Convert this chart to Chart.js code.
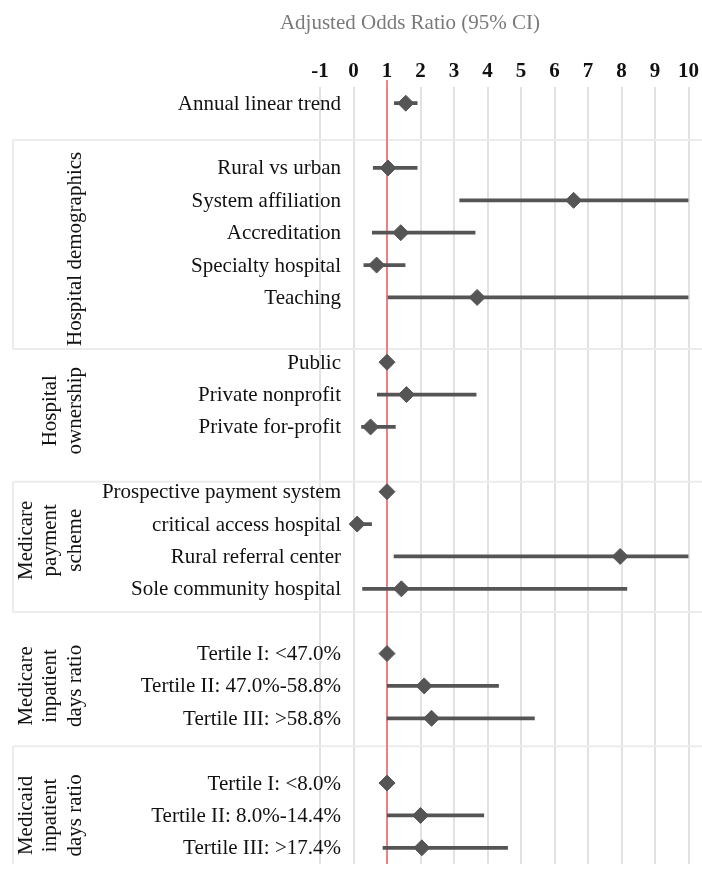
<!DOCTYPE html>
<html>
<head>
<meta charset="utf-8">
<script src="https://cdn.jsdelivr.net/npm/chart.js@4"></script>
<style>
  html, body { margin: 0; padding: 0; background: #fff; }
  #wrap { width: 702px; height: 873px; position: relative; }
</style>
</head>
<body>
<div id="wrap"><canvas id="forest"></canvas></div>
<script>
'use strict';

// Row labels (blank strings are spacer rows between groups)
const rowLabels = [
  'Annual linear trend',
  '',
  'Rural vs urban',
  'System affiliation',
  'Accreditation',
  'Specialty hospital',
  'Teaching',
  '',
  'Public',
  'Private nonprofit',
  'Private for-profit',
  '',
  'Prospective payment system',
  'critical access hospital',
  'Rural referral center',
  'Sole community hospital',
  '',
  'Tertile I: <47.0%',
  'Tertile II: 47.0%-58.8%',
  'Tertile III: >58.8%',
  '',
  'Tertile I: <8.0%',
  'Tertile II: 8.0%-14.4%',
  'Tertile III: >17.4%',
];

const oddsRatio = [1.56, null, 1.03, 6.57, 1.41, 0.69, 3.69, null, 1.0, 1.58, 0.51, null,
  1.0, 0.11, 7.96, 1.43, null, 1.0, 2.11, 2.33, null, 1.0, 2.0, 2.04];
const ciLower = [1.22, null, 0.59, 3.17, 0.56, 0.31, 1.03, null, null, 0.71, 0.24, null,
  null, 0.02, 1.21, 0.27, null, null, 1.01, 1.0, null, null, 1.01, 0.88];
const ciUpper = [1.9, null, 1.9, 10, 3.63, 1.54, 10, null, null, 3.66, 1.25, null,
  null, 0.54, 10, 8.16, null, null, 4.33, 5.4, null, null, 3.89, 4.6];

const xTicks = [-1, 0, 1, 2, 3, 4, 5, 6, 7, 8, 9, 10];
const refValue = 1;

// Groups (row index units on the category axis)
const groupLines = [
  ['Hospital demographics'],
  ['Hospital', 'ownership'],
  ['Medicare', 'payment', 'scheme'],
  ['Medicare', 'inpatient', 'days ratio'],
  ['Medicaid', 'inpatient', 'days ratio'],
];
const groupStart = [1.14, 7.59, 11.69, 15.72, 19.86];
const groupEnd = [7.59, 11.69, 15.72, 19.86, 23.5];
const groupLabelAt = [4.5, 9.5, 13.5, 18, 22];
const groupBoxed = [true, false, true, false, true];

const SERIF = '"Liberation Serif", "DejaVu Serif", serif';
const MARK = '#555555';

const forestDecor = {
  id: 'forestDecor',
  beforeDatasetsDraw(chart) {
    const { ctx, scales: { x, y }, chartArea } = chart;
    ctx.save();
    // group separators / boxes
    ctx.strokeStyle = '#ececec';
    ctx.lineWidth = 2;
    const boxLeft = 13;
    groupStart.forEach((s, i) => {
      const top = y.getPixelForValue(s);
      const bot = Math.min(y.getPixelForValue(groupEnd[i]), chart.height - 1);
      ctx.beginPath();
      ctx.moveTo(boxLeft, top);
      ctx.lineTo(chart.width, top);
      ctx.stroke();
      if (groupBoxed[i]) {
        ctx.beginPath();
        ctx.moveTo(boxLeft, top);
        ctx.lineTo(boxLeft, bot);
        ctx.stroke();
      }
    });
    // reference line at OR = 1
    const rx = x.getPixelForValue(refValue);
    ctx.strokeStyle = 'rgba(238,110,110,0.85)';
    ctx.lineWidth = 2;
    ctx.beginPath();
    ctx.moveTo(rx, chartArea.top - 7);
    ctx.lineTo(rx, chartArea.bottom);
    ctx.stroke();
    ctx.restore();
  },
  afterDraw(chart) {
    const { ctx, scales: { x, y } } = chart;
    ctx.save();
    // row labels
    ctx.fillStyle = '#111';
    ctx.font = '21px ' + SERIF;
    ctx.textAlign = 'right';
    ctx.textBaseline = 'middle';
    rowLabels.forEach((lab, i) => {
      if (!lab) return;
      ctx.fillText(lab, x.left + 21, y.getPixelForValue(i) + 1);
    });
    // group labels (rotated)
    ctx.textAlign = 'center';
    groupLines.forEach((lines, g) => {
      const cy = y.getPixelForValue(groupLabelAt[g]);
      lines.forEach((ln, j) => {
        const cx = 75 - (lines.length - 1 - j) * 24.5;
        ctx.save();
        ctx.translate(cx, cy);
        ctx.rotate(-Math.PI / 2);
        ctx.fillText(ln, 0, 0);
        ctx.restore();
      });
    });
    // title
    ctx.fillStyle = '#7a7a7a';
    ctx.textAlign = 'center';
    ctx.fillText('Adjusted Odds Ratio (95% CI)', 410, 23);
    ctx.restore();
  }
};

new Chart(document.getElementById('forest'), {
  type: 'bar',
  data: {
    labels: rowLabels,
    datasets: [
      {
        type: 'line',
        label: 'Adjusted OR',
        data: oddsRatio,
        showLine: false,
        pointStyle: 'rectRot',
        pointRadius: 8,
        pointBorderWidth: 1,
        backgroundColor: MARK,
        borderColor: MARK,
      },
      {
        type: 'bar',
        label: '95% CI',
        data: ciLower.map((lo, i) => (lo === null ? null : [lo, ciUpper[i]])),
        backgroundColor: MARK,
        barThickness: 3,
        borderWidth: 0,
      },
    ],
  },
  options: {
    indexAxis: 'y',
    responsive: true,
    maintainAspectRatio: false,
    animation: false,
    layout: { padding: { left: 320, right: 12, top: 47, bottom: 0 } },
    plugins: {
      legend: { display: false },
      tooltip: { enabled: false },
    },
    scales: {
      x: {
        type: 'linear',
        position: 'top',
        min: -1,
        max: 10,
        afterBuildTicks: s => { s.ticks = xTicks.map(v => ({ value: v })); },
        afterFit: s => { s.height = 40; },
        grid: { color: '#e2e2e2', lineWidth: 2, drawTicks: false },
        border: { display: false },
        ticks: {
          padding: 3,
          color: '#111',
          font: { family: SERIF, size: 21, weight: 'bold' },
        },
      },
      y: {
        type: 'category',
        offset: true,
        display: false,
      },
    },
  },
  plugins: [forestDecor],
});
</script>
</body>
</html>
